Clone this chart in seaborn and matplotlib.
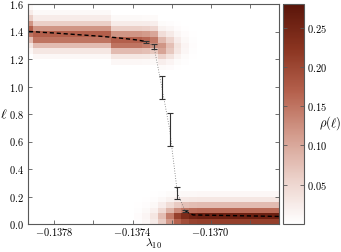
import numpy as np
import pandas as pd
import matplotlib
matplotlib.use("Agg")
import matplotlib.pyplot as plt
import seaborn as sns
from matplotlib.colors import LinearSegmentedColormap

# lambda_10 sample points (one heatmap column each)
lam = [-0.13793, -0.13789, -0.13785, -0.13781, -0.13777, -0.13773, -0.13769,
       -0.13765, -0.13761, -0.13757, -0.13753, -0.13749, -0.13745, -0.13741,
       -0.13737, -0.13733, -0.13729, -0.13725, -0.13721, -0.13717, -0.13713,
       -0.13709, -0.13705, -0.13701, -0.13697, -0.13693, -0.13689, -0.13685,
       -0.13681, -0.13677, -0.13673, -0.13669, -0.13665]

# mean ell and its error at each lambda
ell_mean = [1.400, 1.397, 1.393, 1.390, 1.386, 1.382, 1.378, 1.374, 1.370,
            1.366, 1.361, 1.356, 1.350, 1.344, 1.337, 1.326, 1.290, 0.995,
            0.690, 0.225, 0.094, 0.066, 0.065, 0.064, 0.063, 0.062, 0.061,
            0.060, 0.059, 0.058, 0.057, 0.056, 0.055]
ell_err = [0, 0, 0, 0, 0, 0, 0, 0, 0, 0, 0, 0, 0, 0, 0, 0.008, 0.02, 0.085,
           0.12, 0.045, 0.008, 0, 0, 0, 0, 0, 0, 0, 0, 0, 0, 0, 0]

# where the upper band of rho(ell) sits, and how much weight each band has
top_center = [1.400, 1.397, 1.393, 1.390, 1.386, 1.382, 1.378, 1.374, 1.370,
              1.366, 1.361, 1.356, 1.350, 1.344, 1.337, 1.326, 1.320, 1.315,
              1.310, 1.310, 1.305, 1.300]
top_weight = [1, 1, 1, 1, 1, 1, 1, 1, 1, 1, 1, 1, 1, 1, 1, 0.95, 0.85, 0.7,
              0.45, 0.2, 0.08, 0.02, 0, 0, 0, 0, 0, 0, 0, 0, 0, 0, 0]
bot_weight = [0, 0, 0, 0, 0, 0, 0, 0, 0, 0, 0, 0, 0, 0, 0.02, 0.05, 0.12, 0.3,
              0.55, 0.8, 0.92, 0.98, 1, 1, 1, 1, 1, 1, 1, 1, 1, 1, 1]

# rho per ell bin: upper band (bins around its centre), lower band (from ell=0)
top_profile = [0.01, 0.03, 0.08, 0.15, 0.17, 0.12, 0.06, 0.025, 0.008]
bot_profile = [0.21, 0.26, 0.16, 0.08, 0.03, 0.01]

dl = 0.04
rows = []
for k, x in enumerate(lam):
    if top_weight[k] > 0:
        b0 = int(top_center[k] / dl)
        for j, r in enumerate(top_profile):
            rows.append((x, (b0 + j - 4 + 0.5) * dl, r * top_weight[k]))
    if bot_weight[k] > 0:
        for j, r in enumerate(bot_profile):
            rows.append((x, (j + 0.5) * dl, r * bot_weight[k]))
df = pd.DataFrame(rows, columns=["lam", "ell", "rho"])

plt.rcParams["mathtext.fontset"] = "cm"
plt.rcParams["font.family"] = "serif"
plt.rcParams["font.serif"] = ["DejaVu Serif"]

cmap = LinearSegmentedColormap.from_list(
    "rho", ["#ffffff", "#ecd2cb", "#d49d8e", "#b5614d", "#8a3420", "#5a150a"])

fig = plt.figure(figsize=(3.41, 2.52), dpi=100)
ax = fig.add_axes([28 / 341, 28 / 252, 251 / 341, 220 / 252])
cax = fig.add_axes([283 / 341, 28 / 252, 21 / 341, 220 / 252])

x_edges = np.linspace(-0.13795, -0.13663, 34)
y_edges = np.linspace(0, 1.6, 41)
sns.histplot(data=df, x="lam", y="ell", weights="rho", bins=(x_edges, y_edges),
             cmap=cmap, vmin=0, vmax=0.28, cbar=False, ax=ax)
mesh = ax.collections[0]
mesh.set_clim(0, 0.28)

lam_a = np.array(lam)
mean_a = np.array(ell_mean)
err_a = np.array(ell_err)
ax.plot(lam_a[:16], mean_a[:16], color="black", lw=1.0, ls=(0, (3, 2)))
ax.plot(lam_a[15:21], mean_a[15:21], color="0.45", lw=0.6, ls=(0, (1, 2)))
ax.plot(lam_a[20:], mean_a[20:], color="black", lw=1.0, ls=(0, (3, 2)))
m = err_a > 0
ax.errorbar(lam_a[m], mean_a[m], yerr=err_a[m], fmt="none", ecolor="0.2",
            elinewidth=0.8, capsize=2.2, capthick=0.8)

ax.set_xlim(-0.137935, -0.13665)
ax.set_ylim(0, 1.6)
xt = [-0.1378, -0.1376, -0.1374, -0.1372, -0.1370, -0.1368]
ax.set_xticks(xt)
ax.set_xticklabels([r"$-0.1378$", "", r"$-0.1374$", "", r"$-0.1370$", ""])
yt = [0.0, 0.2, 0.4, 0.6, 0.8, 1.0, 1.2, 1.4, 1.6]
ax.set_yticks(yt)
ax.set_yticklabels([r"$%.1f$" % v for v in yt])
ax.tick_params(direction="in", top=True, right=True, length=3, width=0.6,
               color="0.35", labelsize=7.5, pad=3)
ax.tick_params(axis="x", pad=1.5)
ax.set_xlabel(r"$\lambda_{10}$", fontsize=8.5)
ax.xaxis.set_label_coords(0.5, -0.058)
ax.set_ylabel(r"$\ell$", fontsize=10, rotation=0, labelpad=4, va="center")
for s in ax.spines.values():
    s.set_color("0.35")
    s.set_linewidth(0.8)

cb = fig.colorbar(mesh, cax=cax)
cb.set_ticks([0.05, 0.10, 0.15, 0.20, 0.25])
cb.set_ticklabels([r"$0.05$", r"$0.10$", r"$0.15$", r"$0.20$", r"$0.25$"])
cax.tick_params(direction="in", left=True, right=True, length=3, width=0.6,
                color="0.35", labelsize=7.5, pad=2)
cb.outline.set_edgecolor("0.35")
cb.outline.set_linewidth(0.8)
fig.text(330 / 341, 1 - 123 / 252, r"$\rho(\ell)$", fontsize=9,
         ha="center", va="center")

fig.savefig("out.png", dpi=100)
